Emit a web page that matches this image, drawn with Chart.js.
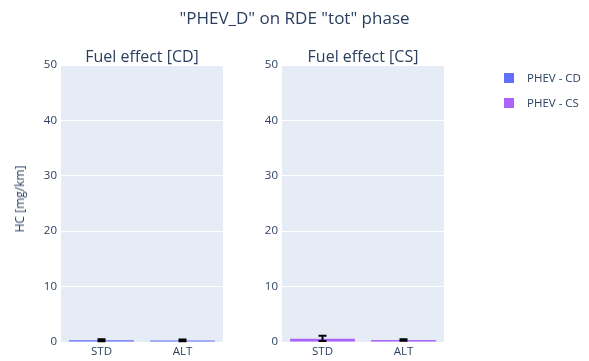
<!DOCTYPE html>
<html>
<head>
<meta charset="utf-8">
<script src="https://cdn.jsdelivr.net/npm/chart.js@4/dist/chart.umd.min.js"></script>
<style>
  html, body { margin: 0; padding: 0; background: #fff; }
  #wrap { position: relative; width: 589px; height: 361px; overflow: hidden; font-family: "Open Sans", sans-serif; color: #2a3f5f; }
  canvas { position: absolute; left: 0; top: 0; }
  .txt { position: absolute; white-space: nowrap; line-height: 1; }
  .lg { position: absolute; width: 10px; height: 10px; }
</style>
</head>
<body>
<div id="wrap">
  <canvas id="cd" width="589" height="361"></canvas>
  <canvas id="cs" width="589" height="361"></canvas>
  <div class="txt" id="title" style="font-size:17px; left:0; width:589px; text-align:center; top:9px;">"PHEV_D" on RDE "tot" phase</div>
  <div class="txt" style="font-size:16px; left:61px; width:162px; text-align:center; top:48px;">Fuel effect [CD]</div>
  <div class="txt" style="font-size:16px; left:282px; width:162px; text-align:center; top:48px;">Fuel effect [CS]</div>
  <div class="txt" style="font-size:12px; left:20px; top:199px; transform: translate(-50%,-50%) rotate(-90deg);">HC [mg/km]</div>
  <div class="lg" style="left:504px; top:73px; background:#636EFA;"></div>
  <div class="txt" style="font-size:11.5px; left:527px; top:72px;">PHEV - CD</div>
  <div class="lg" style="left:504px; top:98px; background:#AB63FA;"></div>
  <div class="txt" style="font-size:11.5px; left:527px; top:97px;">PHEV - CS</div>
</div>
<script>
// Fuel categories and HC emissions (mg/km) per charge mode
const categories = ["STD", "ALT"];
const cdValues = [0.30, 0.25];
const cdErrPlus = [0.20, 0.18];
const cdErrMinus = [0.15, 0.12];
const csValues = [0.60, 0.35];
const csErrPlus = [0.55, 0.15];
const csErrMinus = [0.40, 0.12];
const yTicks = [0, 10, 20, 30, 40, 50];

const FONT = "'Open Sans', sans-serif";
const TEXT = "#2a3f5f";

// Draws capped error bars on top of each bar
const errorBars = {
  id: "errorBars",
  afterDatasetsDraw(chart) {
    const ds = chart.data.datasets[0];
    const meta = chart.getDatasetMeta(0);
    const y = chart.scales.y;
    const ctx = chart.ctx;
    ctx.save();
    ctx.strokeStyle = "#000";
    ctx.lineWidth = 2;
    meta.data.forEach((bar, i) => {
      const v = ds.data[i];
      const top = y.getPixelForValue(v + ds.errPlus[i]);
      const bot = y.getPixelForValue(v - ds.errMinus[i]);
      const x = bar.x;
      ctx.beginPath();
      ctx.moveTo(x, top); ctx.lineTo(x, bot);
      ctx.moveTo(x - 4, top); ctx.lineTo(x + 4, top);
      ctx.moveTo(x - 4, bot); ctx.lineTo(x + 4, bot);
      ctx.stroke();
    });
    ctx.restore();
  }
};

// Plot background fill
const plotBg = {
  id: "plotBg",
  beforeDraw(chart) {
    const a = chart.chartArea;
    chart.ctx.save();
    chart.ctx.fillStyle = "#E5ECF6";
    chart.ctx.fillRect(a.left, a.top, a.right - a.left, a.bottom - a.top);
    chart.ctx.restore();
  }
};

function makePanel(id, label, values, errPlus, errMinus, color, padLeft, padRight) {
  new Chart(document.getElementById(id), {
    type: "bar",
    data: {
      labels: categories,
      datasets: [{
        label: label,
        data: values,
        errPlus: errPlus,
        errMinus: errMinus,
        backgroundColor: color,
        borderWidth: 0,
        categoryPercentage: 0.8,
        barPercentage: 1.0
      }]
    },
    options: {
      responsive: false,
      animation: false,
      devicePixelRatio: 1,
      layout: { padding: { left: padLeft, right: padRight, top: 65, bottom: 3 } },
      plugins: { legend: { display: false }, title: { display: false }, tooltip: { enabled: false } },
      scales: {
        x: {
          grid: { display: false, drawTicks: false },
          border: { display: false },
          ticks: { color: TEXT, font: { family: FONT, size: 11.5 }, padding: 3, maxRotation: 0 },
          afterFit(s) { s.height = 16; }
        },
        y: {
          min: 0, max: 50,
          afterBuildTicks(s) { s.ticks = yTicks.map(v => ({ value: v })); },
          grid: { color: "#ffffff", lineWidth: 1, drawTicks: false },
          border: { display: false },
          ticks: { color: TEXT, font: { family: FONT, size: 11.5 }, padding: 4 },
          afterFit(s) { s.width = 30; }
        }
      }
    },
    plugins: [plotBg, errorBars]
  });
}

makePanel("cd", "PHEV - CD", cdValues, cdErrPlus, cdErrMinus, "#636EFA", 31, 366);
makePanel("cs", "PHEV - CS", csValues, csErrPlus, csErrMinus, "#AB63FA", 252, 145);
</script>
</body>
</html>
